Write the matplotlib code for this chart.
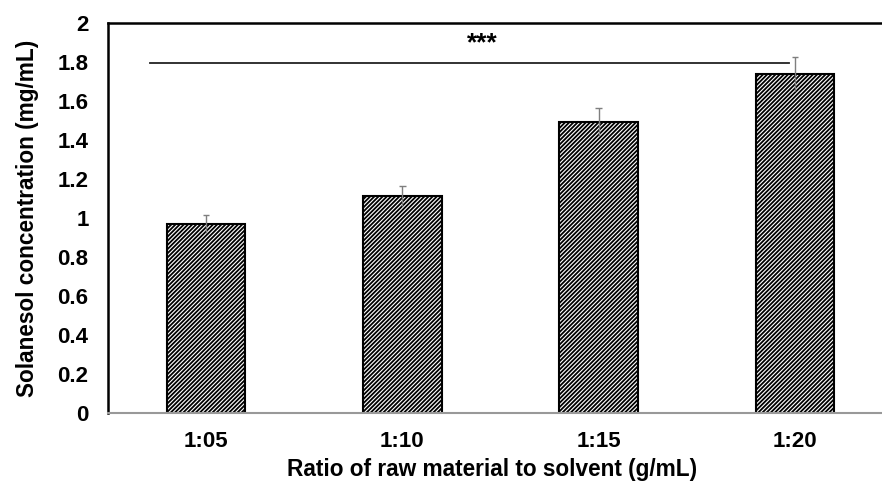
import matplotlib
matplotlib.use("Agg")
import matplotlib.pyplot as plt
import numpy as np

categories = ["1:05", "1:10", "1:15", "1:20"]
values = [0.97, 1.113, 1.494, 1.738]
errors = [0.045, 0.053, 0.072, 0.086]
yticks = [0, 0.2, 0.4, 0.6, 0.8, 1, 1.2, 1.4, 1.6, 1.8, 2]
ytick_labels = ["0", "0.2", "0.4", "0.6", "0.8", "1", "1.2", "1.4", "1.6", "1.8", "2"]
sig_text = "***"
sig_y = 1.793
sig_x = [-0.285, 2.97]

plt.rcParams['font.family'] = ['Liberation Sans', 'DejaVu Sans']
plt.rcParams['hatch.linewidth'] = 1.3
plt.rcParams['hatch.color'] = 'black'

fig = plt.figure(figsize=(8.82, 4.82), dpi=100)
W, H = 882, 482
left, right, top, bottom = 108, 893, 23, 413
ax = fig.add_axes([left / W, 1 - bottom / H, (right - left) / W, (bottom - top) / H])

x = np.arange(len(categories))
ax.bar(x, values, width=0.40, color='white', edgecolor='black', hatch='////////', linewidth=1.5, zorder=2)

v = np.array(values)
e = np.array(errors)
ax.vlines(x, v - e, v + e, color='#7f7f7f', linewidth=1.0, zorder=3)
ax.hlines(v + e, x - 0.016, x + 0.016, color='#7f7f7f', linewidth=1.0, zorder=3)

ax.plot(sig_x, [sig_y, sig_y], color='#222222', linewidth=1.3, zorder=3)
ax.text(1.41, 1.895, sig_text, ha='center', va='center', fontsize=19, fontweight='bold')

ax.set_xlim(-0.5, 3.5)
ax.set_ylim(0, 2)
ax.set_xticks(x)
ax.set_xticklabels(categories, fontsize=16, fontweight='bold')
ax.set_yticks(yticks)
ax.set_yticklabels(ytick_labels, fontsize=16, fontweight='bold')
ax.tick_params(axis='both', length=0)
ax.tick_params(axis='y', pad=14)
ax.tick_params(axis='x', pad=13)

for s in ['left', 'top']:
    ax.spines[s].set_color('black')
    ax.spines[s].set_linewidth(1.8)
ax.spines['bottom'].set_color('#999999')
ax.spines['bottom'].set_linewidth(1.5)
ax.spines['right'].set_visible(False)

ax.set_xlabel("Ratio of raw material to solvent (g/mL)", fontsize=16.3, fontweight='bold')
ax.xaxis.set_label_coords(0.489, -0.115)
ax.set_ylabel("Solanesol concentration (mg/mL)", fontsize=16.3, fontweight='bold', labelpad=13)

fig.savefig("out.png", dpi=100)
